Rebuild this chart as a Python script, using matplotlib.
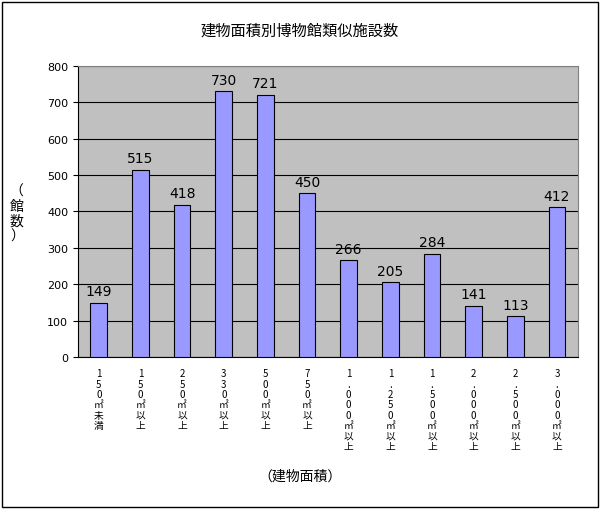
import matplotlib
matplotlib.use("Agg")
import matplotlib.pyplot as plt
from matplotlib.patches import Rectangle

plt.rcParams['font.family'] = ['Noto Sans CJK JP', 'DejaVu Sans']

categories = ["150㎡未満", "150㎡以上", "250㎡以上", "330㎡以上", "500㎡以上", "750㎡以上",
              "1,000㎡以上", "1,250㎡以上", "1,500㎡以上", "2,000㎡以上", "2,500㎡以上", "3,000㎡以上"]
values = [149, 515, 418, 730, 721, 450, 266, 205, 284, 141, 113, 412]
yticks = [0, 100, 200, 300, 400, 500, 600, 700, 800]

fig = plt.figure(figsize=(6, 5.1), dpi=100)
fig.patches.append(Rectangle((0.003, 0.004), 0.993, 0.99, transform=fig.transFigure,
                             fill=False, edgecolor='black', linewidth=1))
ax = fig.add_axes([0.13, 0.298, 0.833, 0.571])
ax.set_facecolor('#C0C0C0')
x = list(range(len(values)))
bars = ax.bar(x, values, width=0.4, color='#9999FF', edgecolor='black', linewidth=0.8, zorder=3)
for xi, v in zip(x, values):
    ax.text(xi, v + 12, str(v), ha='center', va='bottom', fontsize=10, family='DejaVu Sans')
ax.set_ylim(0, 800)
ax.set_xlim(-0.5, len(values) - 0.5)
ax.set_yticks(yticks)
ax.set_yticklabels([str(t) for t in yticks], fontsize=8, family='DejaVu Sans')
ax.yaxis.grid(True, color='black', linewidth=0.8, zorder=0)
ax.set_axisbelow(True)
ax.set_xticks(x)
ax.set_xticklabels(["\n".join(c.replace(",", ".")) for c in categories], fontsize=7, linespacing=1.05, va='top')
ax.tick_params(axis='x', length=0, pad=8)
for s in ax.spines.values():
    s.set_color('#808080')
ax.spines['bottom'].set_color('black')
ax.spines['left'].set_color('black')
fig.text(0.5, 0.94, "建物面積別博物館類似施設数", ha='center', va='center', fontsize=11)
fig.text(0.5, 0.065, "（建物面積）", ha='center', va='center', fontsize=10)
fig.text(0.028, 0.58, "（\n館\n数\n）", ha='center', va='center', fontsize=10, linespacing=1.1)
fig.savefig("out.png", dpi=100)
